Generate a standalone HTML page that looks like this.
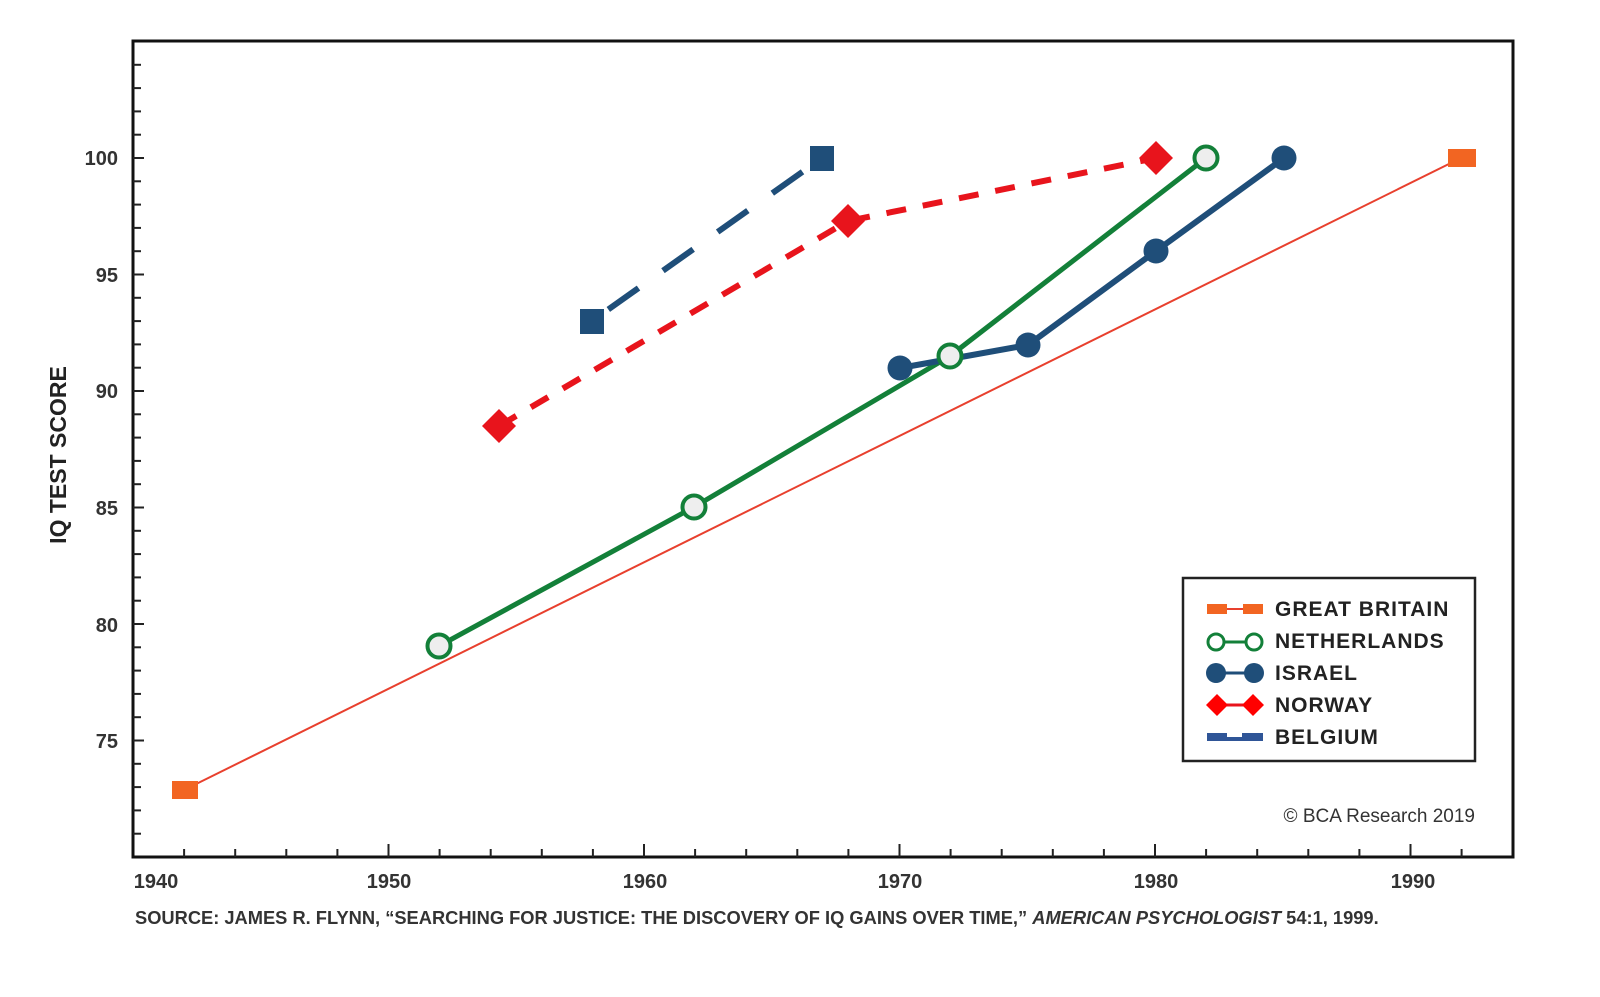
<!DOCTYPE html>
<html><head><meta charset="utf-8"><style>
html,body{margin:0;padding:0;background:#fff;}
svg{display:block;font-family:"Liberation Sans",Arial,sans-serif;}
</style></head><body>
<svg width="1600" height="997" viewBox="0 0 1600 997" xmlns="http://www.w3.org/2000/svg">
<rect width="1600" height="997" fill="#fff"/>
<rect x="133" y="41" width="1380" height="816" fill="none" stroke="#111" stroke-width="3"/>
<g id="ticks" stroke="#222" stroke-width="2"></g>
<g font-size="20" font-weight="bold" fill="#333" text-anchor="end">
<text x="118" y="165">100</text><text x="118" y="282">95</text><text x="118" y="398">90</text>
<text x="118" y="515">85</text><text x="118" y="632">80</text><text x="118" y="748">75</text>
</g>
<g font-size="20" font-weight="bold" fill="#333" text-anchor="middle">
<text x="156" y="888">1940</text><text x="389" y="888">1950</text><text x="645" y="888">1960</text>
<text x="900" y="888">1970</text><text x="1156" y="888">1980</text><text x="1413" y="888">1990</text>
</g>
<text transform="translate(66,455) rotate(-90)" font-size="23" font-weight="bold" fill="#222" text-anchor="middle">IQ TEST SCORE</text>
<text x="135" y="924" font-size="18.3" font-weight="bold" fill="#333">SOURCE: JAMES R. FLYNN, “SEARCHING FOR JUSTICE: THE DISCOVERY OF IQ GAINS OVER TIME,” <tspan font-style="italic">AMERICAN PSYCHOLOGIST</tspan> 54:1, 1999.</text>
<text x="1475" y="822" font-size="19" fill="#333" text-anchor="end">© BCA Research 2019</text>

<line x1="184" y1="790" x2="1461" y2="158" stroke="#e8402e" stroke-width="2"/>
<rect x="172" y="781" width="26" height="18" fill="#f26522"/>
<rect x="1448" y="149" width="28" height="18" fill="#f26522"/>
<line x1="592" y1="321" x2="822" y2="158" stroke="#1f4e79" stroke-width="6" stroke-dasharray="37,30" stroke-dashoffset="-20"/>
<rect x="580" y="309" width="24" height="25" fill="#1f4e79"/>
<rect x="810" y="146" width="24" height="25" fill="#1f4e79"/>
<polyline points="499,426 848,221 1156,158" fill="none" stroke="#e8141c" stroke-width="6" stroke-dasharray="20,17"/>
<g fill="#e8141c">
<polygon points="499,409 516,426 499,443 482,426"/>
<polygon points="848,204 865,221 848,238 831,221"/>
<polygon points="1156,141 1173,158 1156,175 1139,158"/>
</g>
<polyline points="439,646 694,507 950,356 1206,158" fill="none" stroke="#138039" stroke-width="5"/>
<polyline points="900,368 1028,345 1156,251 1284,158" fill="none" stroke="#1f4e79" stroke-width="6"/>
<g fill="#1f4e79">
<circle cx="900" cy="368" r="12.5"/><circle cx="1028" cy="345" r="12.5"/>
<circle cx="1156" cy="251" r="12.5"/><circle cx="1284" cy="158" r="12.5"/>
</g>
<g fill="#eee" stroke="#138039" stroke-width="4">
<circle cx="439" cy="646" r="11.5"/><circle cx="694" cy="507" r="11.5"/>
<circle cx="950" cy="356" r="11.5"/><circle cx="1206" cy="158" r="11.5"/>
</g>

<rect x="1183" y="578" width="292" height="183" fill="#fff" stroke="#222" stroke-width="2.5"/>
<g font-size="21" font-weight="bold" fill="#222" letter-spacing="1">
<text x="1275" y="616">GREAT BRITAIN</text>
<text x="1275" y="648">NETHERLANDS</text>
<text x="1275" y="680">ISRAEL</text>
<text x="1275" y="712">NORWAY</text>
<text x="1275" y="744">BELGIUM</text>
</g>
<line x1="1210" y1="609" x2="1262" y2="609" stroke="#e8402e" stroke-width="2"/>
<rect x="1207" y="604" width="20" height="10" fill="#f26522"/><rect x="1243" y="604" width="20" height="10" fill="#f26522"/>
<line x1="1215" y1="642" x2="1255" y2="642" stroke="#138039" stroke-width="3"/>
<circle cx="1216" cy="642" r="8" fill="#fff" stroke="#138039" stroke-width="3"/><circle cx="1254" cy="642" r="8" fill="#fff" stroke="#138039" stroke-width="3"/>
<line x1="1215" y1="673" x2="1255" y2="673" stroke="#1f4e79" stroke-width="3"/>
<circle cx="1216" cy="673" r="10" fill="#1f4e79"/><circle cx="1254" cy="673" r="10" fill="#1f4e79"/>
<line x1="1215" y1="705" x2="1255" y2="705" stroke="#e8141c" stroke-width="3"/>
<polygon points="1217,694 1228,705 1217,716 1206,705" fill="#ff0000"/><polygon points="1253,694 1264,705 1253,716 1242,705" fill="#ff0000"/>
<rect x="1207" y="733" width="56" height="8" fill="#2f5597"/><rect x="1227" y="733" width="15" height="4" fill="#fff"/>
</svg>
<script>
var g=document.getElementById('ticks'),s='';
for(var v=70;v<=104;v++){var y=158+(100-v)*23.3;if(y<43||y>855)continue;var L=(v%5==0)?11:8;s+='<line x1="133" y1="'+y+'" x2="'+(133+L)+'" y2="'+y+'"/>';}
for(var yr=1940;yr<=1994;yr+=2){var x=133+(yr-1940)*25.55;if(x<135||x>1511)continue;var L=(yr%10==0)?13:8;s+='<line x1="'+x+'" y1="857" x2="'+x+'" y2="'+(857-L)+'"/>';}
g.innerHTML=s;
</script>
</body></html>
